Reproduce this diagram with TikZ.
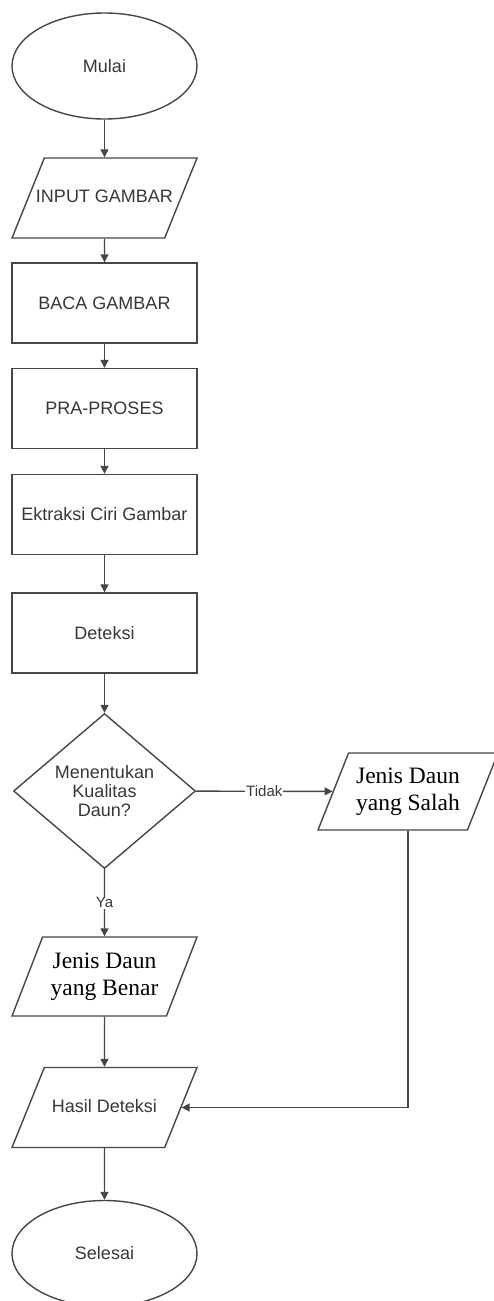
\documentclass[tikz,border=0pt]{standalone}
\usepackage{fontspec}
\setmainfont{Liberation Sans}
\newfontfamily\serifnote{Liberation Serif}
\usetikzlibrary{shapes.geometric,arrows.meta}
\definecolor{linegray}{RGB}{70,70,70}
\definecolor{textgray}{RGB}{55,55,55}
\begin{document}
\begin{tikzpicture}[x=1pt,y=1pt,
		every node/.style={draw=linegray,line width=1.4pt,text=textgray,font=\fontsize{18}{19}\selectfont,inner sep=0pt},
		terminal/.style={ellipse,minimum width=185pt,minimum height=106pt},
		process/.style={rectangle,minimum width=185pt,minimum height=80pt},
		io/.style={trapezium,trapezium left angle=68,trapezium right angle=112,trapezium stretches body,
			text height=13pt,text depth=4pt,inner ysep=31.5pt,inner xsep=-10pt,minimum width=185pt,minimum height=80pt},
		decision/.style={diamond,aspect=1.17,align=center,minimum width=182pt,minimum height=155pt},
		serifio/.style={trapezium,trapezium left angle=68,trapezium right angle=112,trapezium stretches body,
			align=center,inner ysep=14pt,text=black,font=\serifnote\fontsize{23.5}{27}\selectfont},
		label/.style={draw=none,fill=white,inner sep=1pt,font=\fontsize{15}{17}\selectfont},
		flow/.style={draw=linegray,line width=1.4pt,-{Triangle[length=8pt,width=8pt]}}]
	\useasboundingbox (0,0) rectangle (494,-1301);
	
	\node[terminal] (mulai) at (104.5,-66) {Mulai};
	\node[io] (input) at (104.5,-198) {INPUT GAMBAR};
	\node[process] (baca) at (104.5,-303) {BACA GAMBAR};
	\node[process] (praproses) at (104.5,-408.5) {PRA-PROSES};
	\node[process] (ekstraksi) at (104.5,-514.5) {Ektraksi Ciri Gambar};
	\node[process] (deteksi) at (104.5,-633) {Deteksi};
	\node[decision] (kualitas) at (104.5,-791) {Menentukan\\Kualitas\\Daun?};
	\node[serifio,minimum width=180pt,minimum height=77pt] (salah) at (408,-791.5) {Jenis Daun\\yang Salah};
	\node[serifio,minimum width=185pt,minimum height=79pt] (benar) at (104.5,-976.5) {Jenis Daun\\yang Benar};
	\node[io] (hasil) at (104.5,-1107.5) {Hasil Deteksi};
	\node[terminal] (selesai) at (104.5,-1253.5) {Selesai};
	
	\draw[flow] (mulai) -- (input);
	\draw[flow] (input) -- (baca);
	\draw[flow] (baca) -- (praproses);
	\draw[flow] (praproses) -- (ekstraksi);
	\draw[flow] (ekstraksi) -- (deteksi);
	\draw[flow] (deteksi) -- (kualitas);
	\draw[flow] (kualitas) -- node[label] {Tidak} (salah);
	\draw[flow] (kualitas) -- node[label] {Ya} (benar);
	\draw[flow] (benar) -- (hasil);
	\draw[flow] (salah.south) |- (hasil.east);
	\draw[flow] (hasil) -- (selesai);
\end{tikzpicture}
\end{document}
